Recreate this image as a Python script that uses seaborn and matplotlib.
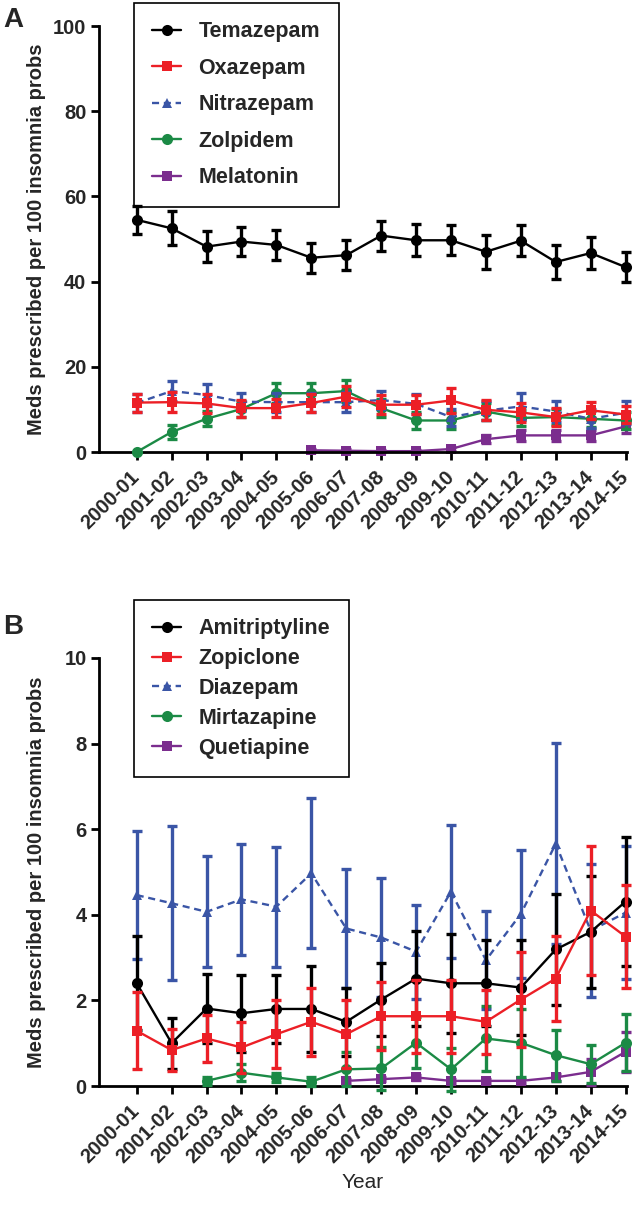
import numpy as np
import pandas as pd
import matplotlib
matplotlib.use("Agg")
import matplotlib.pyplot as plt
import seaborn as sns

years = ["2000-01", "2001-02", "2002-03", "2003-04", "2004-05", "2005-06", "2006-07",
         "2007-08", "2008-09", "2009-10", "2010-11", "2011-12", "2012-13", "2013-14", "2014-15"]

# panel A - meds prescribed per 100 insomnia problems
temazepam = [54.5, 52.5, 48.2, 49.4, 48.6, 45.6, 46.2, 50.8, 49.7, 49.7, 47.0, 49.6, 44.6, 46.7, 43.4]
temazepam_err = [3.3, 4.0, 3.7, 3.5, 3.5, 3.5, 3.5, 3.5, 3.8, 3.5, 4.0, 3.7, 4.1, 3.8, 3.5]
oxazepam = [11.6, 11.7, 11.4, 10.3, 10.3, 11.5, 13.0, 11.1, 11.1, 12.1, 9.9, 9.3, 8.2, 9.8, 8.8]
oxazepam_err = [2.1, 2.4, 2.2, 2.0, 2.1, 2.2, 2.5, 2.2, 2.2, 3.0, 2.3, 2.2, 2.2, 2.0, 2.0]
nitrazepam = [11.5, 14.3, 13.4, 11.8, 11.7, 11.7, 11.7, 12.2, 11.3, 8.2, 9.7, 10.7, 9.5, 7.8, 9.2]
nitrazepam_err = [2.2, 2.4, 2.6, 2.1, 2.2, 2.2, 2.4, 2.1, 2.3, 2.0, 2.2, 3.1, 2.4, 2.2, 2.7]
zolpidem = [0.0, 4.7, 7.8, 10.1, 13.8, 13.8, 14.3, 10.3, 7.4, 7.4, 9.5, 8.0, 8.2, 7.8, 7.4]
zolpidem_err = [0.0, 1.7, 1.8, 1.9, 2.4, 2.4, 2.6, 2.1, 1.9, 1.9, 2.0, 1.9, 1.9, 1.9, 1.9]
melatonin = [np.nan] * 5 + [0.4, 0.3, 0.2, 0.2, 0.7, 3.0, 3.9, 3.9, 3.9, 6.0]
melatonin_err = [np.nan] * 5 + [0.3, 0.3, 0.2, 0.2, 0.4, 0.9, 1.3, 1.3, 1.3, 1.5]

# panel B
amitriptyline = [2.40, 1.00, 1.81, 1.70, 1.80, 1.80, 1.50, 2.02, 2.51, 2.40, 2.40, 2.30, 3.19, 3.60, 4.31]
amitriptyline_err = [1.1, 0.6, 0.8, 0.9, 0.8, 1.0, 0.8, 0.85, 1.1, 1.15, 1.0, 1.1, 1.3, 1.3, 1.5]
zopiclone = [1.29, 0.84, 1.11, 0.90, 1.21, 1.50, 1.21, 1.63, 1.63, 1.63, 1.50, 2.02, 2.51, 4.10, 3.49]
zopiclone_err = [0.9, 0.5, 0.55, 0.6, 0.8, 0.8, 0.8, 0.8, 0.85, 0.85, 0.75, 1.1, 1.0, 1.5, 1.2]
diazepam = [4.46, 4.27, 4.07, 4.36, 4.19, 4.97, 3.68, 3.47, 3.14, 4.54, 2.94, 4.02, 5.66, 3.63, 4.05]
diazepam_err = [1.5, 1.8, 1.3, 1.3, 1.4, 1.75, 1.4, 1.4, 1.1, 1.55, 1.15, 1.5, 2.35, 1.55, 1.55]
mirtazapine = [np.nan, np.nan, 0.12, 0.31, 0.20, 0.10, 0.39, 0.41, 1.01, 0.39, 1.11, 1.01, 0.72, 0.51, 1.01]
mirtazapine_err = [np.nan, np.nan, 0.1, 0.2, 0.1, 0.1, 0.4, 0.5, 0.6, 0.5, 0.75, 0.8, 0.6, 0.45, 0.67]
quetiapine = [np.nan] * 6 + [0.12, 0.16, 0.20, 0.12, 0.12, 0.12, 0.20, 0.33, 0.80]
quetiapine_err = [np.nan] * 6 + [0.05, 0.05, 0.05, 0.05, 0.05, 0.05, 0.08, 0.3, 0.47]

BLACK = "#000000"
RED = "#ec1f26"
BLUE = "#3a55a6"
GREEN = "#1b8a45"
PURPLE = "#7b2d8e"

sns.set_style("ticks")
plt.rcParams["font.family"] = ["Liberation Sans", "DejaVu Sans"]
plt.rcParams["font.weight"] = "bold"
plt.rcParams["axes.labelweight"] = "bold"

W, H = 634, 1209
fig = plt.figure(figsize=(W / 100, H / 100), dpi=100)
ax_a = fig.add_axes([99 / W, 1 - 452 / H, 528 / W, 426 / H])
ax_b = fig.add_axes([99 / W, 1 - 1086 / H, 528 / W, 428 / H])


def draw_series(ax, values, errors, label, color, marker, ms, dashed=False, z=2):
    df = pd.DataFrame({"x": np.arange(len(years)), "y": values, "err": errors}).dropna()
    eb = ax.errorbar(df["x"], df["y"], yerr=df["err"], fmt="none", ecolor=color,
                     elinewidth=2.4, capsize=3.8, capthick=2.4, zorder=z)
    for part in eb.lines[1] + eb.lines[2]:
        part.set_clip_on(False)
    sns.lineplot(data=df, x="x", y="y", ax=ax, color=color, marker=marker,
                 markersize=ms, markeredgewidth=0, linewidth=1.7,
                 linestyle=(0, (3, 2)) if dashed else "-", label=label,
                 errorbar=None, clip_on=False, zorder=z + 0.5)


# panel A
draw_series(ax_a, temazepam, temazepam_err, "Temazepam", BLACK, "o", 8, z=6)
draw_series(ax_a, melatonin, melatonin_err, "Melatonin", PURPLE, "s", 7.5, z=2)
draw_series(ax_a, zolpidem, zolpidem_err, "Zolpidem", GREEN, "o", 8, z=3)
draw_series(ax_a, nitrazepam, nitrazepam_err, "Nitrazepam", BLUE, "^", 7, dashed=True, z=4)
draw_series(ax_a, oxazepam, oxazepam_err, "Oxazepam", RED, "s", 7.5, z=5)

# panel B
draw_series(ax_b, diazepam, diazepam_err, "Diazepam", BLUE, "^", 7, dashed=True, z=2)
draw_series(ax_b, quetiapine, quetiapine_err, "Quetiapine", PURPLE, "s", 7.5, z=3)
draw_series(ax_b, mirtazapine, mirtazapine_err, "Mirtazapine", GREEN, "o", 8, z=4)
draw_series(ax_b, amitriptyline, amitriptyline_err, "Amitriptyline", BLACK, "o", 8, z=5)
draw_series(ax_b, zopiclone, zopiclone_err, "Zopiclone", RED, "s", 7.5, z=6)

order_a = ["Temazepam", "Oxazepam", "Nitrazepam", "Zolpidem", "Melatonin"]
order_b = ["Amitriptyline", "Zopiclone", "Diazepam", "Mirtazapine", "Quetiapine"]

for ax, ymax, step, order, top, spacing in [(ax_a, 100, 20, order_a, 3, 0.72),
                                            (ax_b, 10, 2, order_b, 600, 0.41)]:
    ax.set_xlim(-1.08, 14.04)
    ax.set_ylim(0, ymax)
    ax.set_yticks(np.arange(0, ymax + 1, step))
    ax.set_xticks(np.arange(len(years)))
    # centre-anchored so the last year label stays inside the figure edge
    ax.set_xticklabels(years, rotation=45, ha="right", va="center",
                       rotation_mode="anchor", fontsize=14.5)
    sns.despine(ax=ax)
    for s in ["left", "bottom"]:
        ax.spines[s].set_linewidth(2)
        ax.spines[s].set_color("black")
    ax.tick_params(axis="both", width=2, length=6, color="black", pad=3)
    ax.tick_params(axis="x", pad=10)
    ax.tick_params(axis="y", labelsize=14.5)
    ax.set_ylabel("Meds prescribed per 100 insomnia probs", fontsize=14.5, fontweight="bold")
    ax.yaxis.set_label_coords(-0.1, 0.5)
    ax.set_xlabel("")

    handles, labels = ax.get_legend_handles_labels()
    lookup = dict(zip(labels, handles))
    leg = ax.legend([lookup[n] for n in order], order, loc="upper left",
                    bbox_to_anchor=(134 / W, 1 - top / H), bbox_transform=fig.transFigure,
                    borderaxespad=0, fancybox=False, framealpha=1, edgecolor="black",
                    fontsize=15.5, labelspacing=spacing, handlelength=1.35,
                    handletextpad=0.8, borderpad=0.85)
    leg.get_frame().set_linewidth(1.2)
    for t in leg.get_texts():
        t.set_fontweight("bold")

ax_b.set_xlabel("Year", fontsize=15, fontweight="normal")
ax_b.xaxis.set_label_coords(0.5, -0.203)

fig.text(3 / W, 1 - 20 / H, "A", fontsize=20, fontweight="bold", va="center")
fig.text(3 / W, 1 - 627 / H, "B", fontsize=20, fontweight="bold", va="center")

fig.savefig("out.png", dpi=100)
